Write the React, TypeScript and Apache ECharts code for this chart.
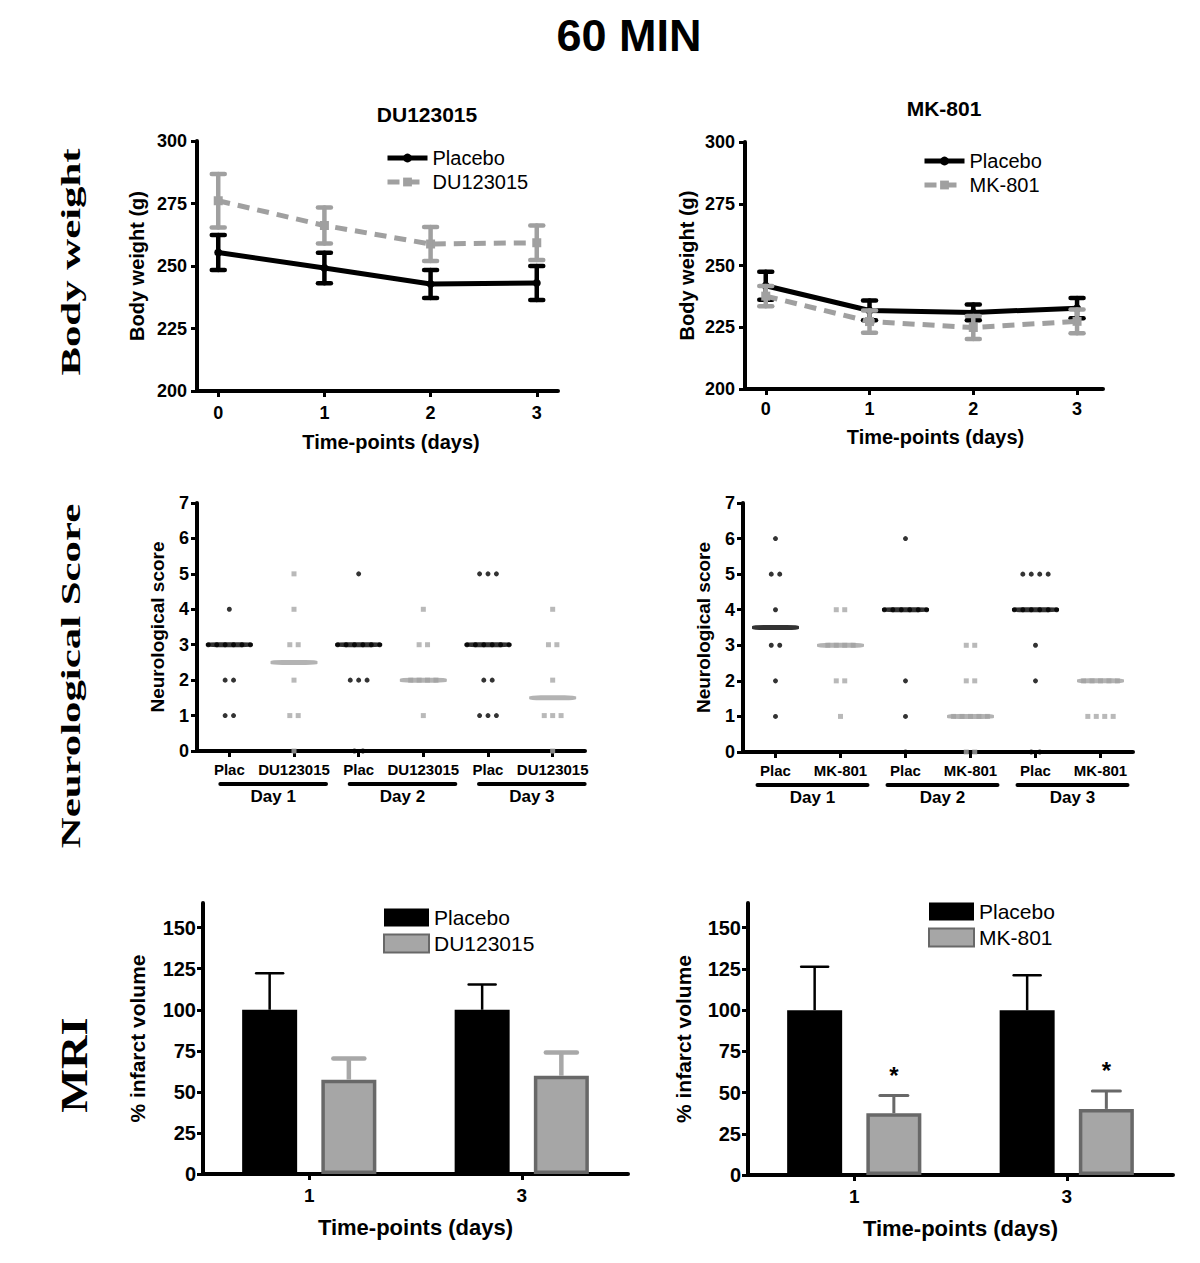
import React, { useEffect, useRef } from 'react';
import * as echarts from 'echarts';

const FONT = '"Liberation Sans", Arial, Helvetica, sans-serif';
const SERIF = '"Liberation Serif", "Times New Roman", serif';
const GRAY = '#a0a0a0';
const DARK_GRAY = '#686868';

// ---------- Body weight (g), mean and SEM ----------
const bwDays = [0, 1, 2, 3];
const bwTicks = [200, 225, 250, 275, 300];
const bwDuPlacebo = [255.4, 249.2, 242.8, 243.2];
const bwDuPlaceboSem = [7.0, 6.1, 5.6, 6.8];
const bwDuDrug = [276.1, 266.2, 258.8, 259.3];
const bwDuDrugSem = [10.7, 7.2, 6.8, 6.9];
const bwMkPlacebo = [241.8, 231.8, 231.0, 232.7];
const bwMkPlaceboSem = [5.7, 4.0, 3.2, 4.1];
const bwMkDrug = [237.6, 227.3, 224.9, 227.4];
const bwMkDrugSem = [4.1, 4.5, 4.7, 4.8];

// ---------- Neurological score ----------
const neuroTicks = [0, 1, 2, 3, 4, 5, 6, 7];
const dayLabels = ['Day 1', 'Day 2', 'Day 3'];
const neuroDuCats = ['Plac', 'DU123015', 'Plac', 'DU123015', 'Plac', 'DU123015'];
const neuroMkCats = ['Plac', 'MK-801', 'Plac', 'MK-801', 'Plac', 'MK-801'];
const neuroDuScores = [
  [4, 3, 3, 3, 3, 3, 3, 2, 2, 1, 1],
  [5, 4, 3, 3, 2, 1, 1, 0],
  [5, 3, 3, 3, 3, 3, 3, 2, 2, 2, 0, 0],
  [4, 3, 3, 2, 2, 2, 2, 1],
  [5, 5, 5, 3, 3, 3, 3, 3, 3, 2, 2, 1, 1, 1],
  [4, 3, 3, 2, 1, 1, 1, 0],
];
const neuroDuMedians = [3, 2.5, 3, 2, 3, 1.5];
const neuroMkScores = [
  [6, 5, 5, 4, 3, 3, 2, 1],
  [4, 4, 3, 3, 3, 3, 2, 2, 1],
  [6, 4, 4, 4, 4, 4, 4, 2, 1, 0],
  [3, 3, 2, 2, 1, 1, 1, 1, 1, 0, 0],
  [5, 5, 5, 5, 4, 4, 4, 4, 4, 4, 3, 2, 0, 0],
  [2, 2, 2, 2, 2, 1, 1, 1, 1],
];
const neuroMkMedians = [3.5, 3, 4, 1, 4, 2];

// ---------- MRI: % infarct volume, mean and SEM ----------
const mriDays = ['1', '3'];
const mriTicks = [0, 25, 50, 75, 100, 125, 150];
const mriDuPlacebo = [100, 100];
const mriDuPlaceboSem = [22.3, 15.4];
const mriDuDrug = [57.4, 59.8];
const mriDuDrugSem = [12.9, 14.2];
const mriMkPlacebo = [100, 100];
const mriMkPlaceboSem = [26.3, 21.2];
const mriMkDrug = [37.5, 40.1];
const mriMkDrugSem = [10.8, 10.9];
const mriMkSig = ['*', '*'];

// layout constants
const DOT_STEP = 0.13;
const BAR_W = 55;
const BAR_GAP = 0.44;
const BAR_OFFSET = (BAR_W + BAR_W * BAR_GAP) / 2;

const lbl = (n: string) => n.split('|')[0];

function yAxisDef(grid: number, min: number, max: number, ticks: number[], interval: number,
  name: string, nameGap: number, nameSize: number, labelSize: number, labelMargin: number) {
  return {
    type: 'value', gridIndex: grid, min, max, interval,
    axisLine: { show: true, onZero: false, lineStyle: { color: '#000', width: 4 } },
    axisTick: { show: true, length: 6, customValues: ticks, lineStyle: { color: '#000', width: 3 } },
    axisLabel: { customValues: ticks, color: '#000', fontFamily: FONT, fontWeight: 'bold', fontSize: labelSize, margin: labelMargin },
    splitLine: { show: false },
    name, nameLocation: 'middle', nameGap,
    nameTextStyle: { color: '#000', fontFamily: FONT, fontWeight: 'bold', fontSize: nameSize },
  };
}

function bwXAxis(grid: number, max: number, margin: number, nameGap: number, padLeft: number) {
  return {
    type: 'value', gridIndex: grid, min: -0.2, max,
    axisLine: { show: true, onZero: false, lineStyle: { color: '#000', width: 4 } },
    axisTick: { show: true, length: 6, customValues: bwDays, lineStyle: { color: '#000', width: 3 } },
    axisLabel: { customValues: bwDays, color: '#000', fontFamily: FONT, fontWeight: 'bold', fontSize: 18, margin },
    splitLine: { show: false },
    name: 'Time-points (days)', nameLocation: 'middle', nameGap,
    nameTextStyle: { color: '#000', fontFamily: FONT, fontWeight: 'bold', fontSize: 20, padding: [0, 0, 0, padLeft] },
  };
}

function neuroCatAxis(grid: number, cats: string[]) {
  return {
    type: 'category', gridIndex: grid, data: cats, position: 'bottom',
    axisLine: { show: true, onZero: false, lineStyle: { color: '#000', width: 4 } },
    axisTick: { show: true, alignWithLabel: true, length: 6, lineStyle: { color: '#000', width: 3 } },
    axisLabel: { interval: 0, color: '#000', fontFamily: FONT, fontWeight: 'bold', fontSize: 15, margin: 11 },
    splitLine: { show: false },
  };
}

function hiddenValueX(grid: number) {
  return { type: 'value', gridIndex: grid, min: -0.5, max: 5.5, show: false, position: 'top', splitLine: { show: false } };
}

function mriXAxis(grid: number) {
  return {
    type: 'category', gridIndex: grid, data: mriDays,
    axisLine: { show: true, onZero: false, lineStyle: { color: '#000', width: 4 } },
    axisTick: { show: true, alignWithLabel: true, length: 6, lineStyle: { color: '#000', width: 3 } },
    axisLabel: { color: '#000', fontFamily: FONT, fontWeight: 'bold', fontSize: 19, margin: 12 },
    splitLine: { show: false },
    name: 'Time-points (days)', nameLocation: 'middle', nameGap: 42,
    nameTextStyle: { color: '#000', fontFamily: FONT, fontWeight: 'bold', fontSize: 22 },
  };
}

function lineSeries(name: string, xi: number, yi: number, vals: number[], color: string, dashed: boolean, symbol: string, z: number) {
  return {
    type: 'line', name, xAxisIndex: xi, yAxisIndex: yi, z,
    data: bwDays.map((d, i) => [d, vals[i]]),
    symbol, symbolSize: dashed ? 9 : 8,
    itemStyle: { color },
    lineStyle: { color, width: 5, type: dashed ? [12, 8] : 'solid' },
    clip: false,
  };
}

function bwErrSeries(xi: number, yi: number, means: number[], sems: number[], color: string, z: number) {
  return {
    type: 'custom', xAxisIndex: xi, yAxisIndex: yi, z, silent: true,
    data: bwDays.map((d, i) => [d, means[i] - sems[i], means[i] + sems[i]]),
    encode: { x: 0, y: [1, 2] },
    renderItem: (_p: any, api: any) => {
      const lo = api.coord([api.value(0), api.value(1)]);
      const hi = api.coord([api.value(0), api.value(2)]);
      const st = { stroke: color, lineWidth: 4.5, lineCap: 'round' };
      const h = 6.5;
      return {
        type: 'group', children: [
          { type: 'line', shape: { x1: lo[0], y1: lo[1], x2: hi[0], y2: hi[1] }, style: st },
          { type: 'line', shape: { x1: lo[0] - h, y1: lo[1], x2: lo[0] + h, y2: lo[1] }, style: st },
          { type: 'line', shape: { x1: hi[0] - h, y1: hi[1], x2: hi[0] + h, y2: hi[1] }, style: st },
        ],
      };
    },
  };
}

function dotPoints(groups: number[][], drug: boolean) {
  const pts: number[][] = [];
  groups.forEach((vals, gi) => {
    if ((gi % 2 === 1) !== drug) return;
    const counts = new Map<number, number>();
    vals.forEach((v) => counts.set(v, (counts.get(v) || 0) + 1));
    counts.forEach((n, v) => {
      for (let i = 0; i < n; i++) pts.push([gi + (i - (n - 1) / 2) * DOT_STEP, v]);
    });
  });
  return pts;
}

function neuroSeries(xi: number, yi: number, groups: number[][], medians: number[], leftPad: number, rightPad: number) {
  return [
    {
      type: 'scatter', xAxisIndex: xi, yAxisIndex: yi, z: 3, clip: false, silent: true,
      data: dotPoints(groups, false), symbol: 'circle', symbolSize: 5, itemStyle: { color: '#000' },
    },
    {
      type: 'scatter', xAxisIndex: xi, yAxisIndex: yi, z: 3, clip: false, silent: true,
      data: dotPoints(groups, true), symbol: 'rect', symbolSize: 5, itemStyle: { color: '#a8a8a8' },
    },
    {
      type: 'scatter', xAxisIndex: xi, yAxisIndex: yi, z: 4, clip: false, silent: true,
      data: medians.map((m, i) => ({ value: [i, m], itemStyle: { color: i % 2 ? GRAY : '#000' } })),
      symbol: 'roundRect', symbolSize: [47, 5],
    },
    {
      type: 'custom', xAxisIndex: xi, yAxisIndex: yi, z: 4, silent: true,
      data: dayLabels.map((_d, i) => [i * 2, i * 2 + 1, 0]),
      encode: { x: [0, 1], y: 2 },
      renderItem: (p: any, api: any) => {
        const a = api.coord([api.value(0), 0]);
        const b = api.coord([api.value(1), 0]);
        const y = a[1] + 33;
        const x0 = a[0] - leftPad;
        const x1 = b[0] + rightPad;
        return {
          type: 'group', children: [
            { type: 'line', shape: { x1: x0, y1: y, x2: x1, y2: y }, style: { stroke: '#000', lineWidth: 4, lineCap: 'round' } },
            {
              type: 'text', x: (x0 + x1) / 2, y: y + 4,
              style: {
                text: dayLabels[p.dataIndex], align: 'center', verticalAlign: 'top', textAlign: 'center', textVerticalAlign: 'top',
                font: `bold 17px ${FONT}`, fill: '#000',
              },
            },
          ],
        };
      },
    },
  ];
}

function barSeries(name: string, xi: number, yi: number, vals: number[], drug: boolean) {
  return {
    type: 'bar', name, xAxisIndex: xi, yAxisIndex: yi, z: 2,
    data: vals, barWidth: BAR_W, barGap: `${BAR_GAP * 100}%`,
    itemStyle: drug ? { color: '#a6a6a6', borderColor: DARK_GRAY, borderWidth: 3.5 } : { color: '#000', borderColor: '#000', borderWidth: 0 },
  };
}

function mriErrSeries(xi: number, yi: number, means: number[], sems: number[], color: string, width: number, capHalf: number, offset: number, sig?: string[]) {
  return {
    type: 'custom', xAxisIndex: xi, yAxisIndex: yi, z: 5, silent: true,
    data: means.map((m, i) => [i, m, m + sems[i]]),
    encode: { x: 0, y: [1, 2] },
    renderItem: (p: any, api: any) => {
      const base = api.coord([api.value(0), api.value(1)]);
      const top = api.coord([api.value(0), api.value(2)]);
      const x = base[0] + offset;
      const st = { stroke: color, lineWidth: width, lineCap: 'butt' };
      const children: any[] = [
        { type: 'line', shape: { x1: x, y1: base[1], x2: x, y2: top[1] }, style: st },
        { type: 'line', shape: { x1: x - capHalf, y1: top[1], x2: x + capHalf, y2: top[1] }, style: { ...st, lineCap: 'round' } },
      ];
      if (sig && sig[p.dataIndex]) {
        children.push({
          type: 'text', x, y: top[1] - 20,
          style: {
            text: sig[p.dataIndex], align: 'center', verticalAlign: 'middle', textAlign: 'center', textVerticalAlign: 'middle',
            font: `bold 24px ${FONT}`, fill: '#000',
          },
        });
      }
      return { type: 'group', children };
    },
  };
}

function buildOption() {
  const legendText = { color: '#000', fontFamily: FONT, fontSize: 20 };
  return {
    animation: false,
    backgroundColor: '#fff',
    textStyle: { fontFamily: FONT },
    grid: [
      { left: 197, top: 141, width: 361, height: 250 },
      { left: 745, top: 142, width: 358, height: 247 },
      { left: 197, top: 503, width: 388, height: 248 },
      { left: 743, top: 503, width: 390, height: 249 },
      { left: 203, top: 903, width: 425, height: 271 },
      { left: 748, top: 903, width: 425, height: 272 },
    ],
    xAxis: [
      bwXAxis(0, 3.2, 13, 41, 27),
      bwXAxis(1, 3.25, 11, 38, 23),
      neuroCatAxis(2, neuroDuCats),
      hiddenValueX(2),
      neuroCatAxis(3, neuroMkCats),
      hiddenValueX(3),
      mriXAxis(4),
      mriXAxis(5),
    ],
    yAxis: [
      yAxisDef(0, 200, 300, bwTicks, 25, 'Body weight (g)', 50, 20, 18, 10),
      yAxisDef(1, 200, 300, bwTicks, 25, 'Body weight (g)', 48, 20, 18, 10),
      yAxisDef(2, 0, 7, neuroTicks, 1, 'Neurological score', 30, 19, 18, 8),
      yAxisDef(3, 0, 7, neuroTicks, 1, 'Neurological score', 30, 19, 18, 8),
      yAxisDef(4, 0, 165, mriTicks, 25, '% infarct volume', 55, 21, 20, 7),
      yAxisDef(5, 0, 165, mriTicks, 25, '% infarct volume', 54, 21, 20, 7),
    ],
    legend: [
      {
        left: 385, top: 148, orient: 'vertical', itemWidth: 40, itemHeight: 11, itemGap: 4, padding: 0,
        lineStyle: { width: 5 },
        data: ['Placebo|bw1', 'DU123015|bw1'], formatter: lbl, textStyle: legendText, selectedMode: false,
      },
      {
        left: 922, top: 151, orient: 'vertical', itemWidth: 40, itemHeight: 11, itemGap: 4, padding: 0,
        lineStyle: { width: 5 },
        data: ['Placebo|bw2', 'MK-801|bw2'], formatter: lbl, textStyle: legendText, selectedMode: false,
      },
      {
        left: 383, top: 907, orient: 'vertical', itemWidth: 45, itemHeight: 18, itemGap: 5, padding: 0, icon: 'rect',
        data: ['Placebo|mri1', 'DU123015|mri1'], formatter: lbl, textStyle: { ...legendText, fontSize: 21 }, selectedMode: false,
      },
      {
        left: 928, top: 901, orient: 'vertical', itemWidth: 45, itemHeight: 18, itemGap: 5, padding: 0, icon: 'rect',
        data: ['Placebo|mri2', 'MK-801|mri2'], formatter: lbl, textStyle: { ...legendText, fontSize: 21 }, selectedMode: false,
      },
    ],
    series: [
      lineSeries('Placebo|bw1', 0, 0, bwDuPlacebo, '#000', false, 'circle', 3),
      bwErrSeries(0, 0, bwDuPlacebo, bwDuPlaceboSem, '#000', 4),
      lineSeries('DU123015|bw1', 0, 0, bwDuDrug, GRAY, true, 'rect', 3),
      bwErrSeries(0, 0, bwDuDrug, bwDuDrugSem, GRAY, 4),
      lineSeries('Placebo|bw2', 1, 1, bwMkPlacebo, '#000', false, 'circle', 3),
      bwErrSeries(1, 1, bwMkPlacebo, bwMkPlaceboSem, '#000', 4),
      lineSeries('MK-801|bw2', 1, 1, bwMkDrug, GRAY, true, 'rect', 5),
      bwErrSeries(1, 1, bwMkDrug, bwMkDrugSem, GRAY, 6),
      ...neuroSeries(3, 2, neuroDuScores, neuroDuMedians, 9, 32),
      ...neuroSeries(5, 3, neuroMkScores, neuroMkMedians, 18, 27),
      barSeries('Placebo|mri1', 6, 4, mriDuPlacebo, false),
      barSeries('DU123015|mri1', 6, 4, mriDuDrug, true),
      mriErrSeries(6, 4, mriDuPlacebo, mriDuPlaceboSem, '#000', 2.5, 13.5, -BAR_OFFSET),
      mriErrSeries(6, 4, mriDuDrug, mriDuDrugSem, '#a8a8a8', 4.5, 15.5, BAR_OFFSET),
      barSeries('Placebo|mri2', 7, 5, mriMkPlacebo, false),
      barSeries('MK-801|mri2', 7, 5, mriMkDrug, true),
      mriErrSeries(7, 5, mriMkPlacebo, mriMkPlaceboSem, '#000', 2.5, 13.5, -BAR_OFFSET),
      mriErrSeries(7, 5, mriMkDrug, mriMkDrugSem, DARK_GRAY, 3, 14, BAR_OFFSET, mriMkSig),
    ],
    graphic: [
      {
        type: 'text', x: 629, y: 35,
        style: { text: '60 MIN', align: 'center', verticalAlign: 'middle', textAlign: 'center', textVerticalAlign: 'middle', font: `bold 45px ${FONT}`, fill: '#000' },
      },
      {
        type: 'text', x: 427, y: 114,
        style: { text: 'DU123015', align: 'center', verticalAlign: 'middle', textAlign: 'center', textVerticalAlign: 'middle', font: `bold 21px ${FONT}`, fill: '#000' },
      },
      {
        type: 'text', x: 944, y: 108,
        style: { text: 'MK-801', align: 'center', verticalAlign: 'middle', textAlign: 'center', textVerticalAlign: 'middle', font: `bold 21px ${FONT}`, fill: '#000' },
      },
      {
        type: 'text', x: 71, y: 262, rotation: Math.PI / 2, scaleX: 1.53,
        style: { text: 'Body weight', align: 'center', verticalAlign: 'middle', textAlign: 'center', textVerticalAlign: 'middle', font: `bold 28px ${SERIF}`, fill: '#000' },
      },
      {
        type: 'text', x: 71, y: 676, rotation: Math.PI / 2, scaleX: 1.53,
        style: { text: 'Neurological Score', align: 'center', verticalAlign: 'middle', textAlign: 'center', textVerticalAlign: 'middle', font: `bold 28px ${SERIF}`, fill: '#000' },
      },
      {
        type: 'text', x: 74, y: 1065, rotation: Math.PI / 2, scaleX: 1.22,
        style: { text: 'MRI', align: 'center', verticalAlign: 'middle', textAlign: 'center', textVerticalAlign: 'middle', font: `bold 38px ${SERIF}`, fill: '#000' },
      },
    ],
  };
}

export default function App() {
  const ref = useRef<HTMLDivElement>(null);
  useEffect(() => {
    if (!ref.current) return;
    const chart = echarts.init(ref.current, null, { renderer: 'svg' });
    chart.setOption(buildOption() as any);
    return () => chart.dispose();
  }, []);
  return (
    <div
      ref={ref}
      style={{ position: 'absolute', left: 0, top: 0, width: 1200, height: 1263, background: '#fff' }}
    />
  );
}
